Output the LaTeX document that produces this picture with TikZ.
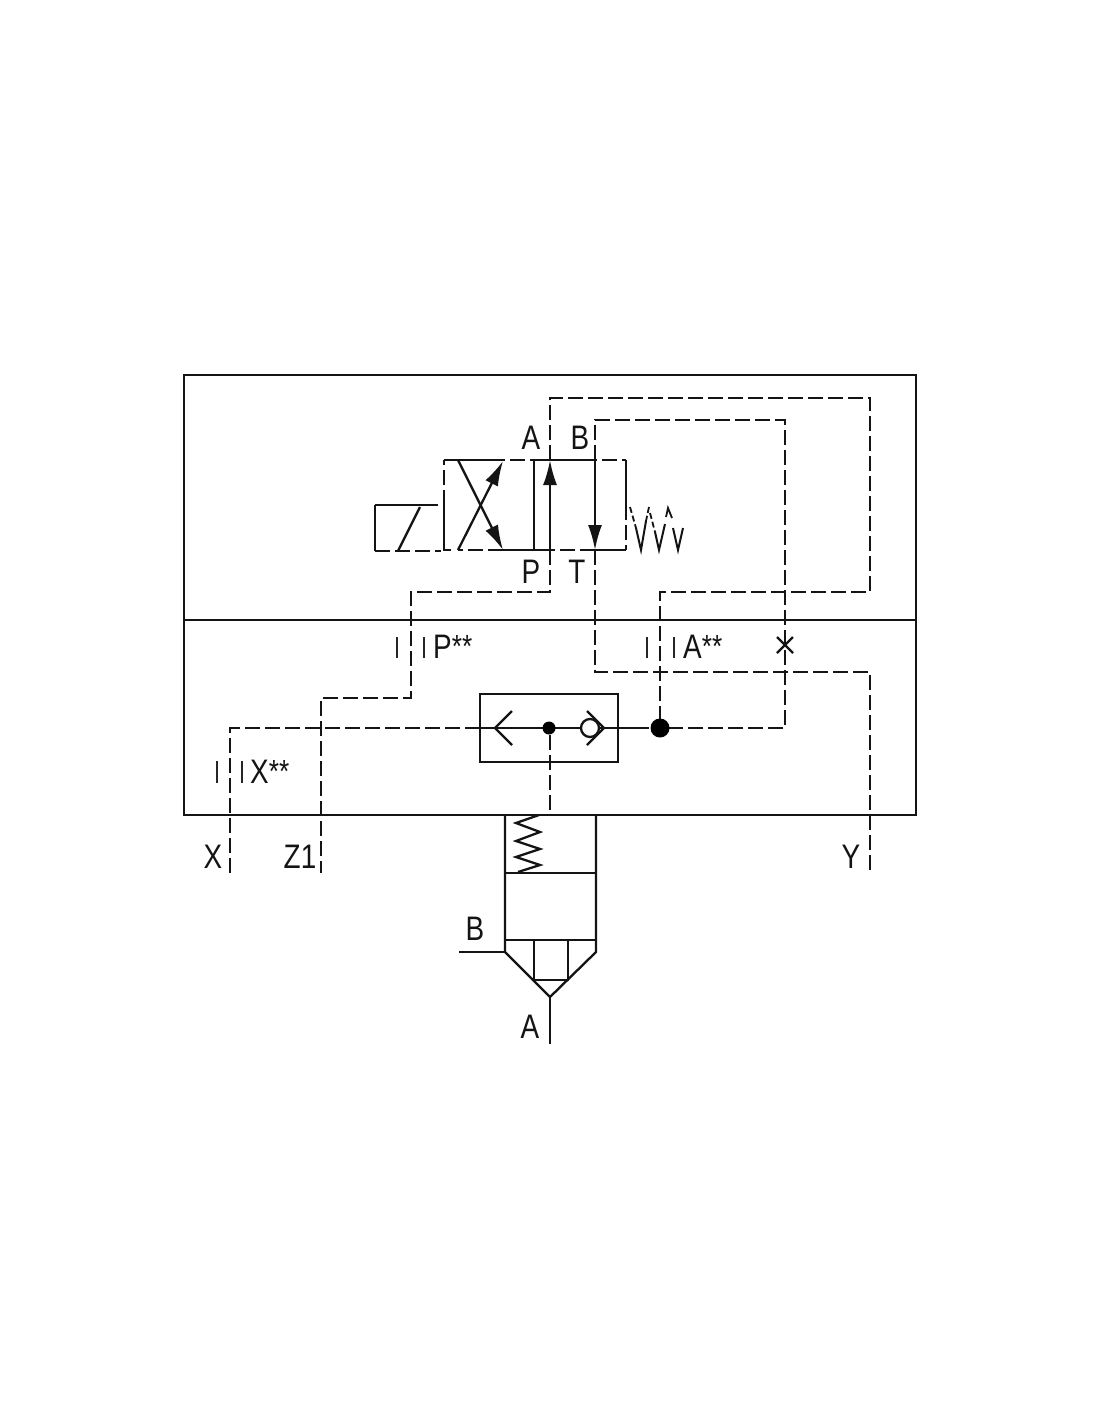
\documentclass[tikz,border=0pt]{standalone}
\usepackage{fontspec}
\setmainfont[FakeStretch=0.82]{Liberation Sans}
\usetikzlibrary{positioning, arrows.meta, calc}

\begin{document}
\begin{tikzpicture}[
	  x=1pt, y=-1pt,
	  font=\fontsize{34}{36}\selectfont,
	  solidline/.style={line width=2.3pt, black!92},
	  pilot/.style={solidline, dash pattern=on 15pt off 5pt},
	  housing/.style={draw, line width=2.3pt, black!92, inner sep=0pt, outer sep=0pt},
	  portlabel/.style={inner sep=0pt, text=black!92},
	  bar/.style={line width=2.2pt, black!85},
	  flowarrow/.style={solidline, -{Latex[length=25pt,width=14pt]}},
	  junction/.style={circle, fill=black, inner sep=0pt}
	]
	\useasboundingbox (0,0) rectangle (1100,1422);
	\fill[white] (0,0) rectangle (1100,1422);

	% --- Housing ---
	\node[housing, minimum width=732pt, minimum height=245pt, anchor=north west] (upper) at (184,375) {};
	\node[housing, minimum width=732pt, minimum height=195pt, anchor=north west] (lower) at (184,620) {};

	% --- Named points ---
	\coordinate (pA) at (550,460);
	\coordinate (pB) at (595,460);
	\coordinate (pP) at (550,550);
	\coordinate (pT) at (595,550);
	\coordinate (xport) at (230,873);
	\coordinate (zport) at (321,873);
	\coordinate (yport) at (870,873);
	\coordinate (aA) at (660,592);
	\coordinate (poppet) at (550,815);

	% --- Pilot valve ---
	\draw[solidline] (444,460) -- (490,460);
	\draw[pilot] (490,460) -- (534,460);
	\draw[solidline] (534,460) -- (582,460);
	\draw[pilot] (582,460) -- (626,460);
	\draw[solidline] (626,460) -- (626,505);
	\draw[pilot] (626,505) -- (626,550);
	\draw[solidline] (626,550) -- (595,550);
	\draw[pilot] (595,550) -- (550,550);
	\draw[solidline] (550,550) -- (503,550);
	\draw[pilot] (503,550) -- (458,550);
	\draw[solidline] (451,550) -- (444,550) -- (444,505);
	\draw[pilot] (444,505) -- (444,460);
	\draw[solidline] (534,460) -- (534,550);
	\draw[solidline] (375,505) -- (423,505);
	\draw[pilot] (423,505) -- (441,505);
	\draw[solidline] (375,505) -- (375,551);
	\draw[pilot] (375,551) -- (441,551);
	\draw[solidline] (398,551) -- (420,507);
	\draw[flowarrow] (458,550) -- (503,461);
	\draw[flowarrow] (458,460) -- (503,550);
	\draw[flowarrow] (pP) -- (pA);
	\draw[flowarrow] ($(pB)+(0,-1)$) -- (pT);

	% --- Spring ---
	\draw[solidline, line width=2pt] (636,528) -- (641,550) -- (646,521);
	\draw[solidline, line width=2pt] (655,532) -- (659,550) -- (665,524);
	\draw[solidline, line width=2pt] (673,528) -- (678,550) -- (683,528);
	\draw[solidline, line width=1.8pt, dash pattern=on 6pt off 3pt] (630,507) -- (636,528);
	\draw[solidline, line width=1.8pt, dash pattern=on 6pt off 3pt] (649,507) -- (646,521);
	\draw[solidline, line width=1.8pt, dash pattern=on 6pt off 3pt] (650,513) -- (655,532);
	\draw[solidline, line width=1.8pt] (666,517) -- (668,508) -- (672,518);

	% --- Pilot lines ---
	\draw[pilot] (pA) -- (550,398) -- (870,398) -- (870,592) -- (aA) -- (660,728);
	\draw[pilot] (pB) -- (595,420) -- (785,420) -- (785,728) -- (660,728);
	\draw[pilot] (pP) -- (550,592) -- (411,592) -- (411,698) -- (321,698) -- (zport);
	\draw[pilot] (pT) -- (595,672) -- (870,672) -- (yport);
	\draw[pilot] (480,728) -- (230,728) -- (xport);
	\draw[pilot] (634,728) -- (660,728);
	\draw[pilot] (550,735) -- (poppet);

	% --- Shuttle valve ---
	\node[housing, minimum width=138pt, minimum height=68pt, anchor=north west] (shuttle) at (480,694) {};
	\draw[solidline] (shuttle.west) -- (634,728);
	\draw[solidline] (512,711) -- (495,728) -- (512,745);
	\node[circle, draw, solidline, fill=white, minimum size=18pt, inner sep=0pt] (ball) at (590,728) {};
	\draw[solidline] (587,711) -- (604,728) -- (587,745);
	\node[junction, minimum size=13pt] (dotS) at (549,728) {};
	\node[junction, minimum size=19pt] (dotA) at (660,728) {};

	% --- Orifice ---
	\draw[solidline] (777,637) -- (793,653);
	\draw[solidline] (793,637) -- (777,653);

	% --- Cartridge ---
	\draw[solidline] (505,815) -- (505,952) -- (550,997) -- (596,952) -- (596,815);
	\draw[solidline] (505,873) -- (596,873);
	\draw[solidline] (505,940) -- (596,940);
	\draw[solidline] (534,940) -- (534,980) -- (568,980) -- (568,940);
	\draw[solidline] (459,952) -- (505,952);
	\draw[solidline] (550,997) -- (550,1044);
	\draw[solidline] (539,815) -- (516,823) -- (540,832) -- (516,841) -- (540,849) -- (516,857) -- (540,865) -- (518,872);

	% --- Plugs ---
	\draw[bar] (397,637) -- (397,658);
	\draw[bar] (424,637) -- (424,658);
	\draw[bar] (647,637) -- (647,658);
	\draw[bar] (674,637) -- (674,658);
	\draw[bar] (217,761) -- (217,783);
	\draw[bar] (242,761) -- (242,783);

	% --- Labels ---
	\node[portlabel] (lblA) at (531,438) {A};
	\node[portlabel] (lblB) at (580,438) {B};
	\node[portlabel] (lblP) at (531,572) {P};
	\node[portlabel] (lblT) at (577,572) {T};
	\node[portlabel, anchor=base west] (lblPs) at (433,658) {P\raisebox{1pt}{\fontsize{32}{32}\selectfont **}};
	\node[portlabel, anchor=base west] (lblAs) at (683,658) {A\raisebox{1pt}{\fontsize{32}{32}\selectfont **}};
	\node[portlabel, anchor=base west] (lblXs) at (250,783) {X\raisebox{1pt}{\fontsize{32}{32}\selectfont **}};
	\node[portlabel] (lblX) at (213,857) {X};
	\node[portlabel] (lblZ) at (300,857) {Z1};
	\node[portlabel] (lblY) at (851,857) {Y};
	\node[portlabel] (lblB2) at (475,929) {B};
	\node[portlabel] (lblA2) at (530,1027) {A};

	\end{tikzpicture}
\end{document}
